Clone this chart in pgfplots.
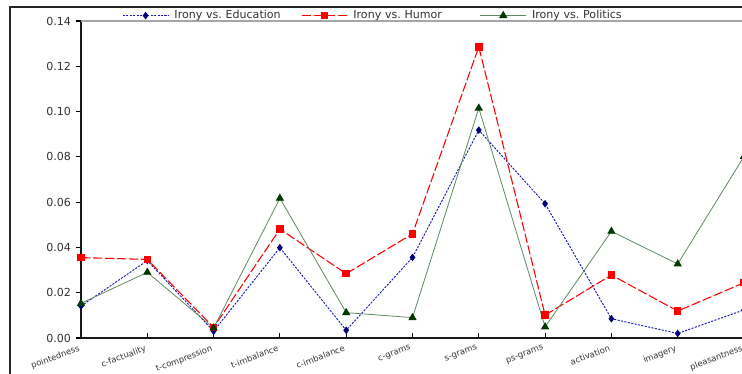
\documentclass[border=0pt]{standalone}
\usepackage{fontspec}
\setmainfont{DejaVu Sans}
\usepackage{pgfplots}
\pgfplotsset{compat=1.18}
\frenchspacing

\definecolor{edublue}{HTML}{1A1AB0}
\definecolor{edumark}{HTML}{00007A}
\definecolor{humred}{HTML}{FF0000}
\definecolor{polline}{HTML}{5F8A5F}
\definecolor{polmark}{HTML}{003A00}
\definecolor{labelgray}{HTML}{333333}

\newcommand{\lgap}{\hspace*{2.25pt}}

\begin{document}
\begin{tikzpicture}
\useasboundingbox (0,0) rectangle (556.5pt,280.5pt);
\clip (0,0) rectangle (556.5pt,280.5pt);
% outer frame
\draw[line width=1.4pt, black!85] (7.5pt,-20pt) -- (7.5pt,275.25pt) -- (620pt,275.25pt);
\begin{axis}[
  at={(60.75pt,27pt)}, anchor=south west,
  width=497.25pt, height=237.75pt, scale only axis,
  xmin=0, xmax=10, ymin=0, ymax=0.14,
  axis x line*=bottom, axis y line*=left,
  axis line style={line width=1pt, black!90},
  xtick={0,...,10},
  xticklabels={pointedness,c-factuality,t-compression,t-imbalance,c-imbalance,c-grams,s-grams,ps-grams,activation,imagery,pleasantness},
  ytick={0,0.02,...,0.14},
  /pgf/number format/assume math mode=true,
  yticklabel style={/pgf/number format/fixed, /pgf/number format/fixed zerofill, /pgf/number format/precision=2, font=\fontsize{8.3}{10}\selectfont, text=labelgray},
  xticklabel style={rotate=21, anchor=north east, font=\fontsize{6.3}{7}\selectfont, text=labelgray, xshift=1pt, yshift=3.5pt},
  scaled y ticks=false,
  tick align=outside, major tick length=4pt,
  tick style={line width=0.8pt, black},
  x tick style={yshift=3.5pt},
  legend columns=3,
  legend style={at={(axis description cs:0.062,1.017)}, anchor=west, draw=none, fill=none,
    font=\fontsize{8.3}{10}\selectfont, text=labelgray, inner sep=0pt,
    /tikz/every even column/.append style={text width=95.25pt, align=left}},
  legend image code/.code={\draw[mark repeat=2,mark phase=2] plot coordinates {(0cm,0cm)(0.6cm,0cm)(1.2cm,0cm)};},
  clip=true,
]
\draw[gray!70, line width=0.8pt] (rel axis cs:0,1) -- (rel axis cs:1.2,1);

\addplot[edublue, line width=0.7pt, dash pattern=on 1.6pt off 1pt,
  mark=diamond*, mark size=2.3pt, mark options={solid, fill=edumark, draw=edumark}]
  coordinates {(0,0.0141) (1,0.0342) (2,0.0030) (3,0.0399) (4,0.0034) (5,0.0356) (6,0.0918) (7,0.0593) (8,0.0085) (9,0.0020) (10,0.0124)};
\addlegendentry{\lgap Irony vs. Education}

\addplot[humred, line width=0.8pt, dash pattern=on 7pt off 2pt,
  mark=square*, mark size=2.4pt, mark options={solid, fill=humred, draw=humred}]
  coordinates {(0,0.0355) (1,0.0347) (2,0.0047) (3,0.0481) (4,0.0284) (5,0.0460) (6,0.1286) (7,0.0101) (8,0.0278) (9,0.0119) (10,0.0244)};
\addlegendentry{\lgap Irony vs. Humor}

\addplot[polline, line width=0.6pt,
  mark=triangle*, mark size=3pt, mark options={solid, fill=polmark, draw=polmark}]
  coordinates {(0,0.0153) (1,0.0290) (2,0.0044) (3,0.0617) (4,0.0112) (5,0.0090) (6,0.1015) (7,0.0049) (8,0.0471) (9,0.0327) (10,0.0802)};
\addlegendentry{\lgap Irony vs. Politics}
\end{axis}
\end{tikzpicture}
\end{document}
